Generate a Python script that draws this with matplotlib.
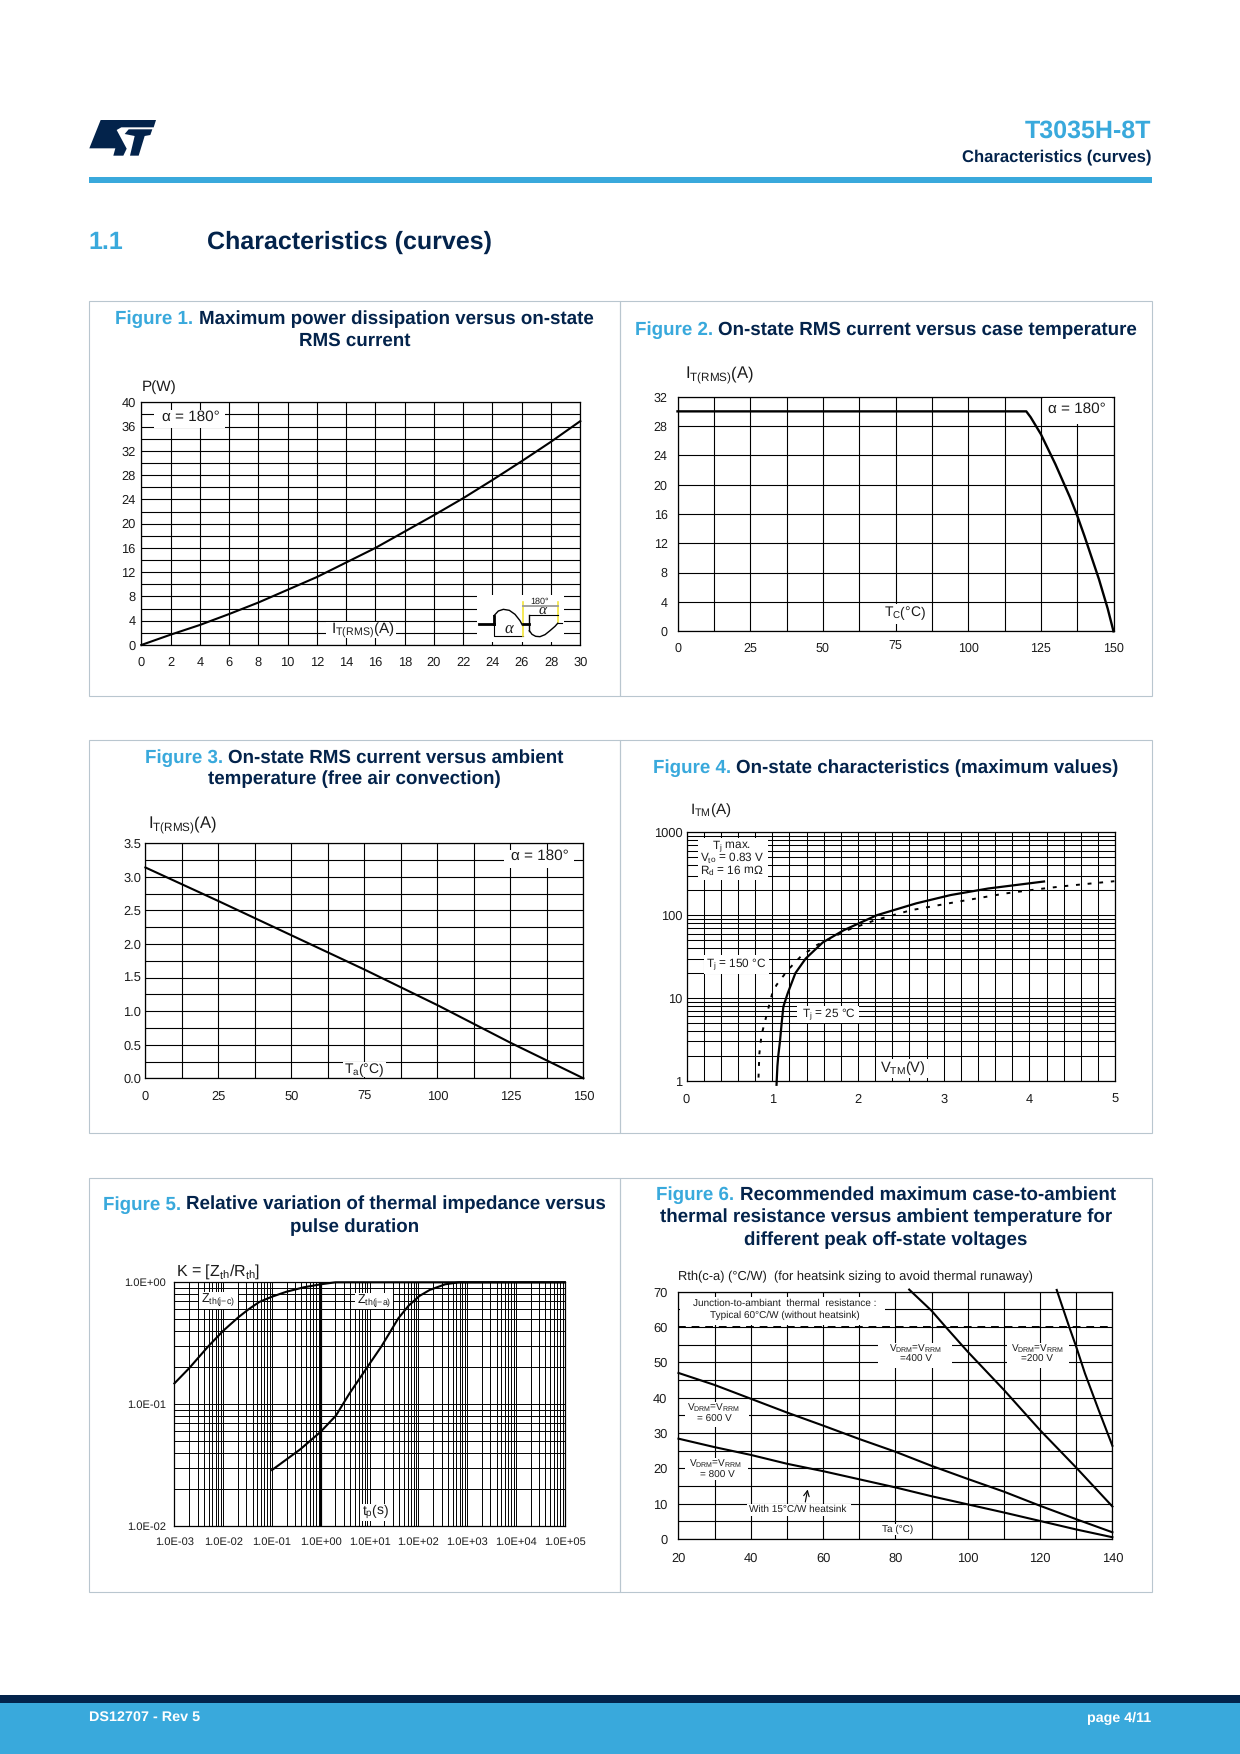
import numpy as np
from matplotlib import pyplot as plt
from matplotlib.patches import Polygon, Rectangle
from matplotlib.ticker import NullFormatter

plt.rcParams['font.family'] = ['Liberation Sans', 'DejaVu Sans']
plt.rcParams['mathtext.fontset'] = 'custom'
plt.rcParams['mathtext.rm'] = 'Liberation Sans'
plt.rcParams['mathtext.default'] = 'regular'
plt.rcParams['text.hinting'] = 'no_hinting'

BLUE = '#39a9dc'
NAVY = '#03234b'
FRAME = '#b9c6cf'
INK = '#1c1c1c'

# fig 1
f1_current = [0, 2, 4, 6, 8, 10, 12, 14, 16, 18, 20, 22, 24, 26, 28, 30]
f1_power = [0, 1.7, 3.3, 5.1, 7, 9.1, 11.2, 13.6, 16, 18.7, 21.4, 24.2, 27.2, 30.3, 33.5, 36.9]
# fig 2
f2_temp = [0, 120, 121.5, 125, 130, 135, 137.5, 140, 145, 148, 150]
f2_current = [30, 30, 29.2, 26.9, 22.8, 18.3, 15.8, 13, 7.1, 3.1, 0]
# fig 3
f3_temp = [0, 25, 50, 75, 100, 125, 150]
f3_current = [3.14, 2.64, 2.13, 1.62, 1.09, 0.53, 0]
# fig 4
f4_v_25 = [1.05, 1.06, 1.07, 1.09, 1.11, 1.13, 1.18, 1.27, 1.39, 1.59, 1.835, 2.22, 2.68, 3.08, 3.52, 4.17]
f4_i_25 = [0.9, 1.5, 2, 3, 5, 7.9, 11.4, 20, 30, 47, 66, 100, 139, 175, 210, 255]
f4_v_150 = [0.84, 0.85, 0.875, 0.95, 1.0, 1.05, 1.18, 1.33, 1.52, 1.875, 2.2, 2.62, 3.14, 3.72, 4.1, 4.4, 4.99]
f4_i_150 = [1.1, 2.15, 3.6, 7.2, 11.4, 14.4, 21.7, 31.6, 43.6, 66, 87, 115, 144, 183, 206, 224, 257]
# fig 5
f5_t_jc = [1e-3, 2e-3, 4.9e-3, 1e-2, 2.04e-2, 3.3e-2, 5.5e-2, 1e-1, 2e-1, 4.5e-1, 1, 2, 10, 1e5]
f5_k_jc = [0.148, 0.197, 0.297, 0.40, 0.516, 0.60, 0.69, 0.762, 0.838, 0.91, 0.963, 1, 1, 1]
f5_t_ja = [0.1, 0.38, 1, 2.04, 3.8, 9.1, 17.4, 38.9, 63, 105, 170, 355, 676, 1e5]
f5_k_ja = [0.0288, 0.0426, 0.0595, 0.0805, 0.121, 0.203, 0.297, 0.507, 0.643, 0.772, 0.865, 0.963, 1, 1]
# fig 6
f6_temp = [20, 30, 40, 50, 60, 70, 80, 90, 100, 110, 120, 130, 140]
f6_600 = [47, 43.6, 39.7, 35.8, 32.1, 28.3, 24.7, 20.7, 17, 13.4, 9.4, 5.6, 1.9]
f6_800 = [28.4, 26, 23.8, 21.3, 19.2, 16.9, 14.6, 12.1, 9.8, 7.5, 5.1, 2.7, 0.5]
f6_temp_400 = [83.8, 90, 94, 100, 110, 120, 130, 140]
f6_400 = [70.6, 64.6, 59.9, 53, 42.2, 30.8, 20.2, 9.2]
f6_temp_200 = [124.6, 128.1, 130, 132.4, 136.2, 140]
f6_200 = [70.5, 59.9, 54.4, 46.9, 36.5, 26.4]
f6_free_air = [60, 60]

# waveform sketch in fig 1, units of the little drawing
wave_up_x = [72, 85, 100, 118, 135, 150, 158]
wave_up_y = [92, 78, 73, 76, 88, 107, 122]
wave_down_x = [178, 186, 197, 210, 225, 240, 255, 263]
wave_down_y = [137, 148, 154, 155, 149, 137, 124, 115]

fig = plt.figure(figsize=(12.4, 17.54), dpi=100)
page = fig.add_axes([0, 0, 1, 1], zorder=-1)
page.set_xlim(0, 1240)
page.set_ylim(1754, 0)
page.axis('off')


def draw_page():
    page.add_patch(Rectangle((89, 177), 1062.5, 6, fc=BLUE, ec='none'))
    page.add_patch(Rectangle((0, 1695), 1240, 8, fc=NAVY, ec='none'))
    page.add_patch(Rectangle((0, 1703), 1240, 51, fc=BLUE, ec='none'))
    page.text(1151.5, 138, 'T3035H-8T', color=BLUE, fontsize=18, fontweight='bold', ha='right', va='baseline')
    page.text(1151.5, 161, 'Characteristics (curves)', color=NAVY, fontsize=12, fontweight='bold', ha='right', va='baseline')
    page.text(88, 249, '1.1', color=BLUE, fontsize=18, fontweight='bold', va='baseline')
    page.text(207, 249, 'Characteristics (curves)', color=NAVY, fontsize=18, fontweight='bold', va='baseline')
    page.text(89, 1717, 'DS12707 - Rev 5', color='white', fontsize=10.4, fontweight='bold', va='center')
    page.text(1151, 1718, 'page 4/11', color='white', fontsize=10.3, fontweight='bold', va='center', ha='right')
    # logo
    s_shape = [(62, 60), (228, 60), (221, 82), (124, 82), (110, 90), (140, 146), (130, 167), (100, 167),
               (106, 145), (28, 145)]
    t_shape = [(134, 102), (146, 88), (217, 88), (211, 105), (194, 108), (176, 167), (150, 167), (164, 108)]
    for shape in (s_shape, t_shape):
        pts = [(80 + x / 3, 100 + y / 3) for x, y in shape]
        page.add_patch(Polygon(pts, closed=True, fc=NAVY, ec='none'))
    # panel frames
    for top, bottom in ((300.5, 695.5), (739.5, 1133), (1177.5, 1592)):
        page.add_patch(Rectangle((88.7, top), 531.3, bottom - top, fc='none', ec=FRAME, lw=0.8))
        page.add_patch(Rectangle((620, top), 531.5, bottom - top, fc='none', ec=FRAME, lw=0.8))


def title(cx, baselines, head, lines):
    # first line has the blue "Figure n." in front of it
    r = fig.canvas.get_renderer()
    size = 13.5
    a = page.text(0, baselines[0], head, color=BLUE, fontsize=size, fontweight='bold', va='baseline')
    b = page.text(0, baselines[0], lines[0], color=NAVY, fontsize=size, fontweight='bold', va='baseline')
    w_a = a.get_window_extent(r).width
    w_b = b.get_window_extent(r).width
    left = cx - (w_a + w_b + 5) / 2
    a.set_x(left)
    b.set_x(left + w_a + 5)
    for y, line in zip(baselines[1:], lines[1:]):
        page.text(cx, y, line, color=NAVY, fontsize=size, fontweight='bold', ha='center', va='baseline')


def chart(left, top, right, bottom, lw=0.8):
    ax = fig.add_axes([left / 1240, 1 - bottom / 1754, (right - left) / 1240, (bottom - top) / 1754])
    ax.set_axisbelow(True)
    ax.grid(which='both', color='black', lw=lw)
    ax.tick_params(which='both', length=0, labelsize=9.3, labelcolor=INK)
    for s in ax.spines.values():
        s.set_linewidth(0.9)
    return ax


def blank(ax, x0, y0, x1, y1):
    ax.add_patch(Rectangle((x0, y0), x1 - x0, y1 - y0, transform=page.transData, fc='white', ec='none',
                           zorder=3, clip_on=False))


def label(ax, x, y, s, size=10, ha='center', **kw):
    ax.text(x, y, s, transform=page.transData, fontsize=size, color=INK, ha=ha, va='center', zorder=3.5, **kw)


draw_page()
title(354.4, [324, 346], 'Figure 1.', ['Maximum power dissipation versus on-state', 'RMS current'])
title(886, [335], 'Figure 2.', ['On-state RMS current versus case temperature'])
title(354.4, [762.7, 784.5], 'Figure 3.', ['On-state RMS current versus ambient', 'temperature (free air convection)'])
title(886, [773.3], 'Figure 4.', ['On-state characteristics (maximum values)'])
title(354.4, [1209.5, 1232.5], 'Figure 5.', ['Relative variation of thermal impedance versus', 'pulse duration'])
title(886, [1199.5, 1222, 1245], 'Figure 6.', ['Recommended maximum case-to-ambient',
                                               'thermal resistance versus ambient temperature for',
                                               'different peak off-state voltages'])

# Figure 1
ax1 = chart(141.3, 402.3, 580.3, 645)
ax1.set_xlim(0, 30)
ax1.set_ylim(0, 40)
ax1.set_xticks(np.arange(0, 31, 2))
ax1.set_yticks(np.arange(0, 41, 4))
ax1.set_yticks(np.arange(2, 40, 4), minor=True)
ax1.tick_params(axis='x', which='major', pad=8)
ax1.tick_params(axis='y', which='major', pad=4)
ax1.plot(f1_current, f1_power, color='black', lw=1.5, zorder=4, clip_on=False)
label(ax1, 141.3, 387, 'P(W)', size=11, ha='left')
blank(ax1, 154, 410, 225, 428)
label(ax1, 190.9, 417.3, 'α = 180°', size=11)
blank(ax1, 326, 622, 396, 638)
label(ax1, 362.4, 630, 'I$_{T(RMS)}$(A)', size=11)

# little firing angle drawing
blank(ax1, 477, 595, 564, 642)
ins = fig.add_axes([470 / 1240, 1 - 650 / 1754, 110 / 1240, 65 / 1754], zorder=5)
ins.set_xlim(0, 330)
ins.set_ylim(195, 0)
ins.axis('off')
ins.plot([28, 72], [117, 117], color='black', lw=2)
ins.plot([72, 72], [92, 117], color='black', lw=2)
ins.plot([72, 72, 158], [117, 152, 152], color='black', lw=0.8)
ins.plot(wave_up_x, wave_up_y, color='black', lw=1)
ins.plot([159, 159], [52, 153], color='#f4e53a', lw=1.2)
ins.plot([263, 263], [52, 115], color='#f4e53a', lw=1.2)
ins.plot([160, 263], [62, 62], color='#9a9a9a', lw=1.3)
ins.plot([160, 178], [117, 117], color='black', lw=2)
ins.plot([178, 178], [90, 137], color='black', lw=1)
ins.plot([178, 263], [90, 90], color='black', lw=0.8)
ins.plot(wave_down_x, wave_down_y, color='black', lw=1)
ins.plot([263, 275], [115, 115], color='black', lw=0.8)
ins.text(208, 49, '180°', fontsize=6.5, ha='center', va='center', color=INK)
ins.text(117, 130, 'α', fontsize=12, ha='center', va='center', family='Liberation Serif', style='italic', color=INK)
ins.text(217, 76, 'α', fontsize=11, ha='center', va='center', family='Liberation Serif', style='italic', color=INK)

# Figure 2
ax2 = chart(677.5, 396.7, 1113.5, 631.3)
ax2.set_xlim(0, 150)
ax2.set_ylim(0, 32)
ax2.set_xticks(np.arange(0, 151, 25))
ax2.set_xticks(np.arange(12.5, 150, 25), minor=True)
ax2.set_yticks(np.arange(0, 33, 4))
ax2.tick_params(axis='x', which='major', pad=8, labelsize=9)
ax2.tick_params(axis='y', which='major', pad=7, labelsize=9)
ax2.xaxis.get_major_ticks()[3].set_pad(6.5)
ax2.plot(f2_temp, f2_current, color='black', lw=1.7, zorder=4, clip_on=False)
label(ax2, 684.7, 375, 'I$_{T(RMS)}$(A)', size=12, ha='left')
blank(ax2, 1043, 398, 1112, 424)
label(ax2, 1077, 409, 'α = 180°', size=11)
blank(ax2, 885, 604, 926, 624)
label(ax2, 905, 613.3, 'T$_{C}$(°C)')

# Figure 3
ax3 = chart(145.4, 843.3, 583.4, 1078.3)
ax3.set_xlim(0, 150)
ax3.set_ylim(0, 3.5)
ax3.set_xticks(np.arange(0, 151, 25))
ax3.set_xticks(np.arange(12.5, 150, 25), minor=True)
ax3.set_yticks(np.arange(0, 3.6, 0.5))
ax3.set_yticks(np.arange(0.25, 3.5, 0.5), minor=True)
ax3.tick_params(axis='x', which='major', pad=9)
ax3.tick_params(axis='y', which='major', pad=3)
ax3.plot(f3_temp, f3_current, color='black', lw=1.5, zorder=4, clip_on=False)
label(ax3, 148, 825, 'I$_{T(RMS)}$(A)', size=12, ha='left')
blank(ax3, 504, 850, 574, 868)
label(ax3, 539.7, 856, 'α = 180°', size=11)
blank(ax3, 343, 1062, 386, 1077)
label(ax3, 364, 1070, 'T$_{a}$(°C)')

# Figure 4
ax4 = chart(686.5, 832.3, 1115.2, 1081, lw=0.75)
ax4.set_yscale('log')
ax4.set_xlim(0, 5)
ax4.set_ylim(1, 1000)
ax4.set_xticks(np.arange(0, 6, 1))
ax4.set_xticks(np.arange(0, 5.01, 0.2), minor=True)
ax4.set_yticks([1, 10, 100, 1000], ['1', '10', '100', '1000'])
ax4.set_yticks([m * d for d in (1, 10, 100) for m in range(2, 10)], minor=True)
ax4.yaxis.set_minor_formatter(NullFormatter())
ax4.tick_params(axis='x', which='major', pad=9)
ax4.tick_params(axis='y', which='major', pad=3)
ax4.plot(f4_v_25, f4_i_25, color='black', lw=1.6, zorder=4, clip_on=False)
ax4.plot(f4_v_150, f4_i_150, color='black', lw=1.4, ls=(0, (2, 4)), zorder=4)
label(ax4, 689.6, 810, 'I$_{TM}$(A)', size=11, ha='left')
blank(ax4, 698, 838, 768, 880)
label(ax4, 732, 846, 'T$_{j}$ max.', size=8.5)
label(ax4, 732, 858.3, 'V$_{to}$ = 0.83 V', size=8.5)
label(ax4, 732, 871, 'R$_{d}$ = 16 mΩ', size=8.5)
blank(ax4, 704, 955, 769, 974)
label(ax4, 736.4, 964, 'T$_{j}$ = 150 °C', size=8.5)
blank(ax4, 797, 1006, 859, 1023)
label(ax4, 829.4, 1014, 'T$_{j}$ = 25 °C', size=8.5)
blank(ax4, 877, 1059, 928, 1078)
label(ax4, 902.4, 1067.7, 'V$_{TM}$(V)', size=10.5)

# Figure 5
ax5 = chart(174.4, 1282.3, 564.8, 1526, lw=0.7)
ax5.set_xscale('log')
ax5.set_yscale('log')
ax5.set_xlim(1e-3, 1e5)
ax5.set_ylim(1e-2, 1)
x_major = [10.0 ** p for p in range(-3, 6)]
ax5.set_xticks(x_major, ['1.0E-03', '1.0E-02', '1.0E-01', '1.0E+00', '1.0E+01', '1.0E+02', '1.0E+03', '1.0E+04', '1.0E+05'])
ax5.set_xticks([m * d for d in x_major[:-1] for m in range(2, 10)], minor=True)
ax5.set_yticks([0.01, 0.1, 1], ['1.0E-02', '1.0E-01', '1.0E+00'])
ax5.set_yticks([m * d for d in (0.01, 0.1) for m in range(2, 10)], minor=True)
ax5.xaxis.set_minor_formatter(NullFormatter())
ax5.yaxis.set_minor_formatter(NullFormatter())
ax5.tick_params(axis='both', which='major', labelsize=8)
ax5.tick_params(axis='x', which='major', pad=8)
ax5.tick_params(axis='y', which='major', pad=6)
ax5.axvline(1, color='black', lw=1.6, zorder=1)
ax5.plot(f5_t_jc, f5_k_jc, color='black', lw=1.5, zorder=4, clip_on=False)
ax5.plot(f5_t_ja, f5_k_ja, color='black', lw=1.5, zorder=4, clip_on=False)
label(ax5, 176.4, 1271.7, 'K = [Z$_{th}$/R$_{th}$]', size=11.5, ha='left')
blank(ax5, 199, 1292, 238, 1309)
label(ax5, 217.7, 1299.5, 'Z$_{th(j{-}c)}$', size=9)
blank(ax5, 355, 1293, 393, 1309)
label(ax5, 373.7, 1300.5, 'Z$_{th(j{-}a)}$', size=9)
blank(ax5, 362, 1504, 389, 1521)
label(ax5, 376, 1512, 't$_{p}$(s)')

# Figure 6
ax6 = chart(678.5, 1291.7, 1112.4, 1539)
ax6.set_xlim(20, 140)
ax6.set_ylim(0, 70)
ax6.set_xticks(np.arange(20, 141, 20))
ax6.set_xticks(np.arange(30, 140, 20), minor=True)
ax6.set_yticks(np.arange(0, 71, 10))
ax6.set_yticks(np.arange(5, 70, 10), minor=True)
ax6.tick_params(axis='x', which='major', pad=9.5)
ax6.tick_params(axis='y', which='major', pad=8)
ax6.plot(f6_temp, f6_600, color='black', lw=1.5, zorder=4, clip_on=False)
ax6.plot(f6_temp, f6_800, color='black', lw=1.5, zorder=4, clip_on=False)
ax6.plot(f6_temp_400, f6_400, color='black', lw=1.5, zorder=4, clip_on=False)
ax6.plot(f6_temp_200, f6_200, color='black', lw=1.5, zorder=4, clip_on=False)
ax6.plot([20, 140], f6_free_air, color='black', lw=1.4, ls=(0, (4, 3)), zorder=4)
label(ax6, 678.5, 1277, 'Rth(c-a) (°C/W)  (for heatsink sizing to avoid thermal runaway)', size=9.25, ha='left')
blank(ax6, 680, 1297, 885, 1325)
label(ax6, 784.6, 1303.3, 'Junction-to-ambiant  thermal  resistance :', size=7.2)
label(ax6, 784.6, 1315.3, 'Typical 60°C/W (without heatsink)', size=7.2)
blank(ax6, 878, 1343, 952, 1368)
label(ax6, 915.5, 1348.3, 'V$_{DRM}$=V$_{RRM}$', size=7.2)
label(ax6, 915.5, 1359.5, '=400 V', size=7.2)
blank(ax6, 1007, 1343, 1069, 1368)
label(ax6, 1037.4, 1348.3, 'V$_{DRM}$=V$_{RRM}$', size=7.2)
label(ax6, 1037.4, 1359.5, '=200 V', size=7.2)
blank(ax6, 685, 1402, 749, 1427)
label(ax6, 713, 1407.7, 'V$_{DRM}$=V$_{RRM}$', size=7.2)
label(ax6, 714, 1419.3, '= 600 V', size=7.2)
blank(ax6, 685, 1458, 748, 1480)
label(ax6, 715.7, 1464, 'V$_{DRM}$=V$_{RRM}$', size=7.2)
label(ax6, 717.4, 1475, '= 800 V', size=7.2)
blank(ax6, 747, 1504, 851, 1516)
label(ax6, 798, 1509.3, 'With 15°C/W heatsink', size=7.2)
ax6.annotate('', xy=(807.7, 1489.5), xytext=(805.3, 1502), xycoords=page.transData, textcoords=page.transData,
             arrowprops=dict(arrowstyle='->', lw=0.8, color='black', shrinkA=0, shrinkB=0), zorder=3.5)
blank(ax6, 878, 1524, 916, 1535)
label(ax6, 897.6, 1529.3, 'Ta (°C)', size=7.2)

fig.savefig('out.png', dpi=100)
